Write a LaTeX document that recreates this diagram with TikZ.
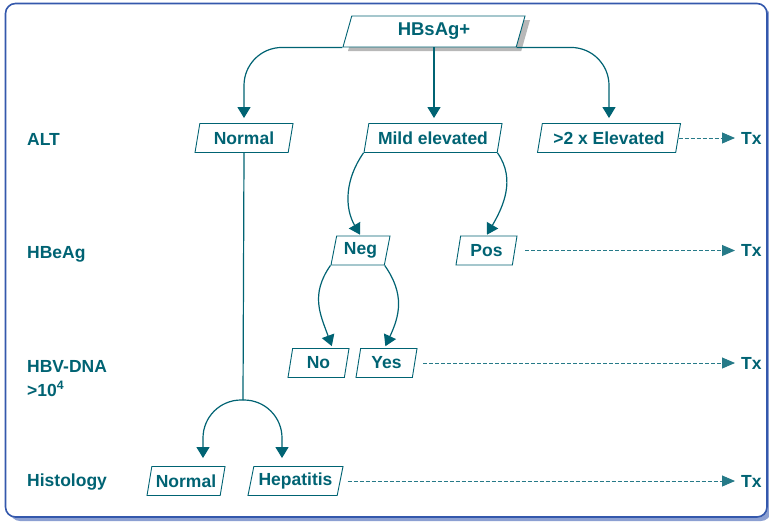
\documentclass[tikz,border=0pt]{standalone}
\usepackage{fontspec}
\setmainfont{Liberation Sans}
\usetikzlibrary{shapes.geometric,arrows.meta,calc,shadows}
\definecolor{tealc}{RGB}{0,99,115}
\definecolor{framec}{RGB}{52,88,172}
\definecolor{frameshadow}{RGB}{140,160,210}
\begin{document}
\begin{tikzpicture}[x=1pt,y=-1pt,
  txtfont/.style={font=\fontsize{17.5}{20}\selectfont\bfseries},
  pbox/.style={trapezium, trapezium left angle=74, trapezium right angle=106,
    trapezium stretches body, draw=tealc, line width=0.9pt, fill=white,
    minimum height=29pt, inner xsep=1pt, inner ysep=2pt, text=tealc, txtfont},
  lbl/.style={anchor=base west, inner sep=0pt, text=tealc, txtfont},
  txs/.style={anchor=west, inner sep=3pt, text=tealc, txtfont},
  conn/.style={draw=tealc, line width=1.2pt, -{Triangle[width=13pt,length=11pt]}},
  dashconn/.style={draw=tealc!85, line width=0.9pt, dash pattern=on 4pt off 2pt,
    -{Triangle[width=11pt,length=13pt]}}]
\useasboundingbox (0,0) rectangle (769,523);
\clip (0,0) rectangle (769,523);
% frame
\fill[frameshadow, rounded corners=10pt] (10,8) rectangle (771,521);
\draw[framec, line width=1.6pt, fill=white, rounded corners=10pt] (5.5,3.5) rectangle (767,517);

% nodes
\node[pbox, minimum width=182pt, minimum height=31pt,
  trapezium left angle=67, trapezium right angle=113,
  font=\fontsize{18.5}{21}\selectfont\bfseries,
  drop shadow={shadow xshift=5pt, shadow yshift=-4pt, fill=black!28, opacity=1}]
  (hb) at (434,31.5) {HBsAg+};
\node[pbox, minimum width=98pt] (altN) at (244,138) {Normal};
\node[pbox, minimum width=138pt] (mild) at (433,138) {Mild elevated};
\node[pbox, minimum width=143pt] (gt2) at (609,138) {>2 x Elevated};
\node[pbox, minimum width=59pt] (neg) at (360.5,250.5) {Neg};
\node[pbox, minimum width=61pt] (pos) at (486.5,250.5) {Pos};
\node[pbox, minimum width=61pt] (no) at (318.5,363) {No};
\node[pbox, minimum width=61pt] (yes) at (386.5,363) {Yes};
\node[pbox, minimum width=78pt] (hN) at (186,481) {Normal};
\node[pbox, minimum width=95pt] (hH) at (295.5,481) {Hepatitis};

\node[txs] (tx1) at (738,138) {Tx};
\node[txs] (tx2) at (738,250.5) {Tx};
\node[txs] (tx3) at (738,363) {Tx};
\node[txs] (tx4) at (738,481) {Tx};

\node[lbl] (lalt) at (27,145) {ALT};
\node[lbl] (lhbe) at (27,258) {HBeAg};
\node[lbl] (lhbv) at (27,372) {HBV-DNA};
\node[lbl] (lhbv2) at (27,396) {>10\textsuperscript{4}};
\node[lbl] (lhis) at (27,486) {Histology};

% connectors
\draw[conn, rounded corners=38pt, shorten >=5pt] (hb.bottom left corner) -| (altN.north);
\draw[conn, shorten >=5pt] (hb.south) -- (hb.south |- mild.north);
\draw[conn, rounded corners=38pt, shorten >=5pt] (hb.bottom right corner) -| (gt2.north);

\draw[conn, shorten >=1pt] (mild.bottom left corner) to[out=-125,in=120] (neg.north);
\draw[conn, shorten >=1pt] (mild.bottom right corner) to[out=-55,in=60] (pos.north);
\draw[conn, shorten >=2pt, looseness=1.1] (neg.bottom left corner) to[out=-125,in=110] ([xshift=14pt]no.north);
\draw[conn, shorten >=2pt, looseness=1.1] (neg.bottom right corner) to[out=-55,in=65] ([xshift=-2pt]yes.north);

\coordinate (split) at (243,400);
\draw[tealc, line width=1.2pt] (altN.south) -- (split);
\draw[conn, rounded corners=38pt] (split) -| ([xshift=17pt,yshift=8pt]hN.north);
\draw[conn, rounded corners=38pt] (split) -| ([xshift=-13.5pt,yshift=8pt]hH.north);

\draw[dashconn, shorten >=3pt] (gt2.east) -- (gt2.east -| tx1.west);
\draw[dashconn, shorten <=10pt, shorten >=3pt] (pos.east) -- (pos.east -| tx2.west);
\draw[dashconn, shorten <=8pt, shorten >=3pt] (yes.east) -- (yes.east -| tx3.west);
\draw[dashconn, shorten <=7pt, shorten >=3pt] (hH.east) -- (hH.east -| tx4.west);
\end{tikzpicture}
\end{document}
